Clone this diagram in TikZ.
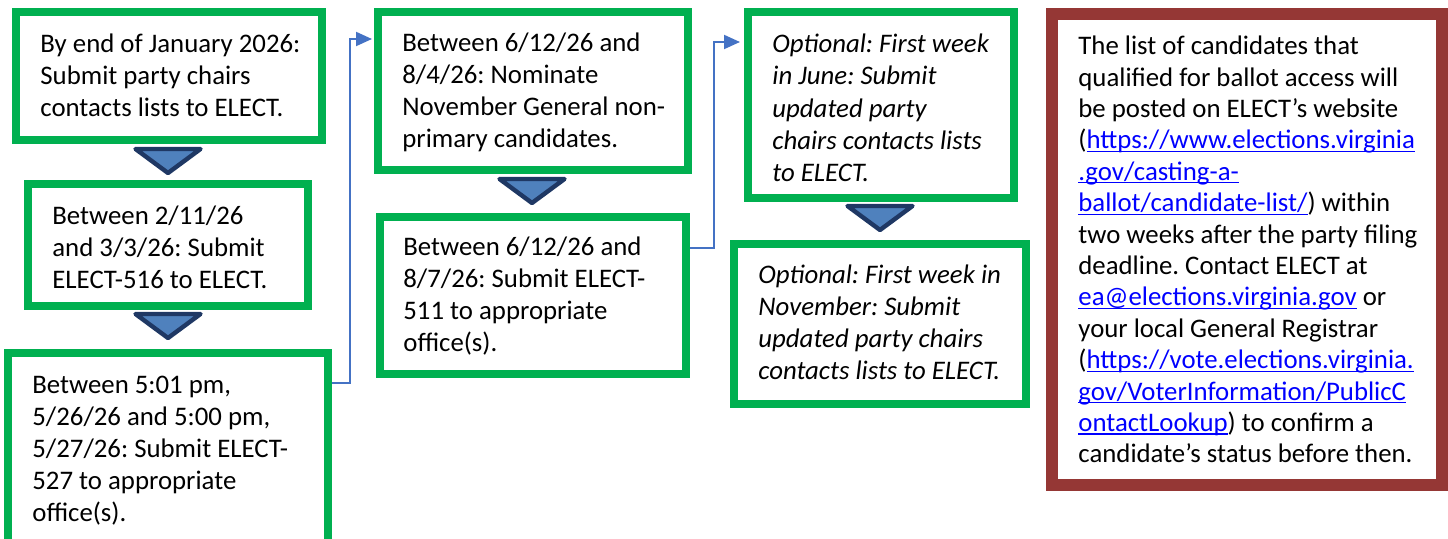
\documentclass[tikz,border=0pt]{standalone}
\usepackage{fontspec}
\setmainfont{Carlito}
\usepackage{xcolor}
\usepackage{tikz}
\usetikzlibrary{arrows.meta,calc}
\frenchspacing

\definecolor{boxgreen}{RGB}{0,176,80}
\definecolor{boxred}{RGB}{149,55,53}
\definecolor{trifill}{RGB}{79,129,189}
\definecolor{triline}{RGB}{31,56,100}
\definecolor{linkblue}{RGB}{68,114,196}
\definecolor{urlblue}{RGB}{0,0,255}

\newcommand{\weblink}[1]{\textcolor{urlblue}{\setbox0\hbox{#1}\rlap{\rule[-1.5pt]{\wd0}{0.6pt}}#1}}

\tikzset{
  greenbox/.style={draw=boxgreen, line width=4pt, fill=white, inner sep=0pt},
  redbox/.style={draw=boxred, line width=6pt, fill=white, inner sep=0pt},
  txt/.style={anchor=base west, inner sep=0pt, align=left,
    font=\fontsize{13.4}{16.1}\selectfont},
  tri/.style={draw=triline, fill=trifill, line width=2.2pt, line join=round},
  link/.style={draw=linkblue, line width=1pt, -{Triangle[length=8pt,width=7pt]}}
}

\begin{document}
\begin{tikzpicture}[x=0.5pt,y=-0.5pt]
    \useasboundingbox (0,0) rectangle (1448,539);
    %boxes
    \node[greenbox, minimum width=153pt, minimum height=64pt] (b1) at (169,76.5) {};
    \node[greenbox, minimum width=140pt, minimum height=61pt] (b2) at (168,245) {};
    \node[greenbox, minimum width=160pt, minimum height=96pt] (b3) at (168,448.75) {};
    \node[greenbox, minimum width=155pt, minimum height=78.75pt] (b4) at (533,91.25) {};
    \node[greenbox, minimum width=153pt, minimum height=78.5pt] (b5) at (533,295.5) {};
    \node[greenbox, minimum width=133pt, minimum height=92.75pt] (b6) at (881,105.25) {};
    \node[greenbox, minimum width=146pt, minimum height=80pt] (b7) at (880,324) {};
    \node[redbox, minimum width=195pt, minimum height=235.5pt] (b8) at (1247,249.5) {};
    %texts (placed on the baseline of their last line)
    \node[txt] (t1) at (40,117) {By end of January 2026:\\Submit party chairs\\contacts lists to ELECT.};
    \node[txt] (t2) at (52,289) {Between 2/11/26\\and 3/3/26: Submit\\ELECT-516 to ELECT.};
    \node[txt] (t3) at (32,522) {Between 5:01 pm,\\5/26/26 and 5:00 pm,\\5/27/26: Submit ELECT-\\527 to appropriate\\office(s).};
    \node[txt] (t4) at (402,148) {Between 6/12/26 and\\8/4/26: Nominate\\November General non-\\primary candidates.};
    \node[txt] (t5) at (403,352) {Between 6/12/26 and\\8/7/26: Submit ELECT-\\511 to appropriate\\office(s).};
    \node[txt, font=\fontsize{13.4}{16.2}\selectfont\itshape] (t6) at (772,182) {Optional: First week\\in June: Submit\\updated party\\chairs contacts lists\\to ELECT.};
    \node[txt, font=\fontsize{13.4}{16.1}\selectfont\itshape] (t7) at (758,380) {Optional: First week in\\November: Submit\\updated party chairs\\contacts lists to ELECT.};
    \node[txt, font=\fontsize{13.4}{15.7}\selectfont] (t8) at (1078,463) {The list of candidates that\\qualified for ballot access will\\be posted on ELECT’s website\\(\weblink{https://www.elections.virginia}\\\weblink{.gov/casting-a-}\\\weblink{ballot/candidate-list/}) within\\two weeks after the party filing\\deadline. Contact ELECT at\\\weblink{ea@elections.virginia.gov} or\\your local General Registrar\\(\weblink{https://vote.elections.virginia.}\\\weblink{gov/VoterInformation/PublicC}\\\weblink{ontactLookup}) to confirm a\\candidate’s status before then.};
    %down triangles
    \foreach \cx/\cy in {168/149, 168/314, 532/179, 880/206}
        {\draw[tri] (\cx-32.5,\cy) -- (\cx+32.5,\cy) -- (\cx,\cy+24) -- cycle;}
    %connectors
    \draw[link] ($(b3.north east)+(0,34)$) -- ++(18,0) |- ($(b4.north west)+(-2,30.5)$);
    \draw[link] ($(b5.north east)+(0,35)$) -- ++(24,0) |- ($(b6.north west)+(-4,33.5)$);
\end{tikzpicture}
\end{document}
